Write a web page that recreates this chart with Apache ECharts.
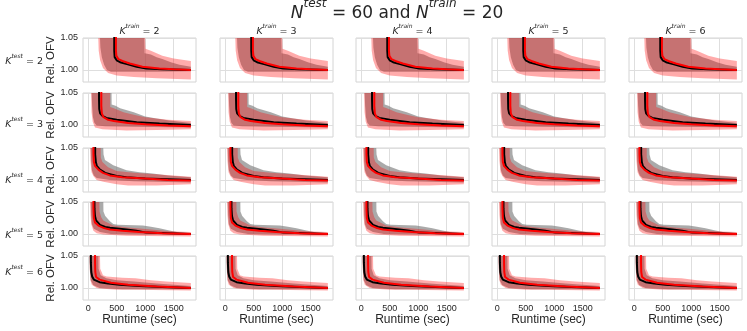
<!DOCTYPE html>
<html lang="en">
<head>
<meta charset="UTF-8">
<title>Rel. OFV grid</title>
<script src="https://cdn.jsdelivr.net/npm/echarts@6/dist/echarts.min.js"></script>
<style>
    html, body { margin: 0; padding: 0; background: #fff; }
    #container { width: 747px; height: 331px; }
</style>
</head>
<body>
<div id="container"></div>
<script>
    var kTrain = [2, 3, 4, 5, 6];
    var kTest = [2, 3, 4, 5, 6];
    var xTicks = [0, 500, 1000, 1500];
    var yTicks = [1.00, 1.05];

    // one set of curves per K_test row, points are [runtime, rel. OFV]
    var blackMean = [
        [[457,1.3],[458,1.03],[465,1.02],[500,1.015],[560,1.012],[680,1.009],[850,1.005],[1020,1.002],[1300,1.0008],[1800,1.0]],
        [[190,1.3],[191,1.04],[195,1.025],[210,1.018],[250,1.014],[320,1.011],[500,1.008],[850,1.004],[1250,1.002],[1800,1.0]],
        [[122,1.3],[123,1.04],[135,1.028],[151,1.022],[208,1.016],[300,1.011],[382,1.009],[500,1.006],[672,1.004],[1000,1.002],[1400,1.001],[1800,1.0]],
        [[110,1.3],[111,1.04],[120,1.028],[139,1.021],[208,1.014],[300,1.011],[382,1.0095],[672,1.007],[845,1.005],[1020,1.002],[1400,1.001],[1800,1.0]],
        [[47,1.3],[48,1.04],[55,1.025],[70,1.018],[100,1.013],[200,1.009],[350,1.007],[550,1.005],[900,1.003],[1300,1.0015],[1800,1.0]]
    ];
    var redMean = [
        [[486,1.3],[487,1.03],[495,1.022],[530,1.017],[600,1.014],[730,1.010],[950,1.005],[1250,1.002],[1500,1.001],[1800,1.0]],
        [[230,1.3],[231,1.03],[240,1.018],[270,1.012],[350,1.008],[450,1.006],[700,1.003],[1000,1.001],[1400,0.999],[1800,0.998]],
        [[92,1.3],[93,1.04],[100,1.028],[120,1.022],[180,1.016],[260,1.011],[380,1.007],[600,1.004],[1000,1.002],[1400,1.0],[1800,0.999]],
        [[92,1.3],[93,1.04],[100,1.025],[120,1.018],[180,1.013],[280,1.009],[382,1.007],[600,1.005],[900,1.003],[1300,1.001],[1800,1.0]],
        [[120,1.3],[121,1.04],[125,1.025],[140,1.017],[200,1.013],[400,1.008],[700,1.005],[1200,1.002],[1800,1.0]]
    ];
    var greyUpper = [
        [[205,1.2],[985,1.2],[990,1.026],[1100,1.024],[1200,1.02],[1300,1.017],[1450,1.012],[1600,1.008],[1800,1.005]],
        [[60,1.2],[410,1.2],[412,1.032],[480,1.03],[560,1.026],[800,1.02],[1000,1.013],[1200,1.01],[1420,1.007],[1800,1.003]],
        [[45,1.2],[265,1.2],[270,1.04],[295,1.031],[440,1.023],[672,1.015],[900,1.012],[1130,1.010],[1400,1.007],[1800,1.004]],
        [[45,1.2],[266,1.2],[268,1.035],[300,1.028],[382,1.02],[440,1.0155],[520,1.0145],[960,1.013],[1100,1.011],[1250,1.009],[1424,1.0055],[1600,1.002],[1800,1.001]],
        [[23,1.2],[180,1.2],[183,1.03],[220,1.02],[320,1.015],[500,1.012],[800,1.01],[1200,1.007],[1500,1.005],[1800,1.003]]
    ];
    var greyLower = [
        [[205,1.2],[208,1.05],[215,1.035],[240,1.02],[280,1.008],[330,1.0],[400,0.997],[700,0.997],[1200,0.997],[1800,0.998]],
        [[60,1.2],[62,1.05],[70,1.03],[85,1.012],[110,1.003],[150,0.999],[300,0.998],[800,0.997],[1800,0.996]],
        [[45,1.2],[47,1.05],[52,1.03],[65,1.015],[100,1.007],[150,1.003],[380,1.0],[800,0.998],[1800,0.996]],
        [[45,1.2],[47,1.05],[52,1.03],[65,1.015],[100,1.008],[208,1.003],[400,1.0],[1000,0.999],[1800,0.999]],
        [[23,1.2],[25,1.05],[30,1.03],[45,1.012],[92,1.004],[200,1.0],[600,0.998],[1800,0.998]]
    ];
    var redUpper = [
        [[175,1.2],[1000,1.2],[1005,1.033],[1100,1.03],[1200,1.026],[1300,1.022],[1500,1.018],[1650,1.016],[1800,1.014]],
        [[50,1.2],[385,1.2],[387,1.028],[450,1.026],[620,1.02],[800,1.016],[1000,1.012],[1400,1.008],[1800,1.006]],
        [[30,1.2],[220,1.2],[222,1.035],[250,1.028],[350,1.02],[500,1.014],[800,1.011],[1250,1.0085],[1800,1.005]],
        [[30,1.2],[197,1.2],[200,1.035],[230,1.026],[266,1.021],[440,1.013],[700,1.01],[960,1.008],[1424,1.004],[1800,1.003]],
        [[20,1.2],[208,1.2],[212,1.03],[260,1.02],[325,1.018],[600,1.016],[830,1.015],[1100,1.012],[1366,1.01],[1800,1.0075]]
    ];
    var redLower = [
        [[175,1.2],[178,1.05],[185,1.03],[210,1.015],[260,1.003],[350,0.995],[500,0.991],[800,0.989],[1200,0.987],[1800,0.985]],
        [[50,1.2],[52,1.05],[60,1.02],[80,1.005],[120,0.996],[250,0.993],[670,0.991],[1200,0.992],[1800,0.993]],
        [[30,1.2],[33,1.05],[40,1.03],[60,1.012],[92,1.006],[150,1.0],[266,0.997],[500,0.993],[700,0.991],[1200,0.991],[1800,0.993]],
        [[30,1.2],[33,1.05],[40,1.03],[55,1.015],[92,1.005],[150,1.001],[266,0.999],[672,0.997],[1800,0.996]],
        [[20,1.2],[23,1.05],[28,1.03],[40,1.012],[64,1.005],[150,1.0],[208,0.999],[500,0.997],[787,0.997],[1800,0.996]]
    ];

    var colLeft = [83, 220, 356, 492, 629];
    var rowTop = [38, 93, 148, 202, 256];
    var rowLabelY = [60, 123, 179, 234, 271];
    var W = 113, H = 44;
    var textColor = '#262626';
    var mathFont = 'DejaVu Sans';
    var plainFont = 'Liberation Sans';

    // math-like text: italic variable, smaller raised superscript, upright rest
    function mathRich(size) {
        var sup = Math.round(size * 0.68);
        return {
            v: { fontFamily: mathFont, fontStyle: 'italic', fontWeight: 'normal', fontSize: size, lineHeight: size * 1.38, verticalAlign: 'bottom', color: textColor },
            s: { fontFamily: mathFont, fontStyle: 'italic', fontWeight: 'normal', fontSize: sup, lineHeight: sup, verticalAlign: 'top', color: textColor },
            n: { fontFamily: mathFont, fontWeight: 'normal', fontSize: size, lineHeight: size * 1.38, verticalAlign: 'bottom', color: textColor }
        };
    }

    function bandSeries(idx, upper, lower, color) {
        return {
            type: 'custom',
            xAxisIndex: idx,
            yAxisIndex: idx,
            clip: true,
            silent: true,
            z: 2,
            data: [0],
            renderItem: function (params, api) {
                var pts = upper.map(function (p) { return api.coord(p); })
                    .concat(lower.slice().reverse().map(function (p) { return api.coord(p); }));
                return {
                    type: 'polygon',
                    shape: { points: echarts.graphic.clipPointsByRect(pts, params.coordSys) },
                    style: { fill: color }
                };
            }
        };
    }

    function lineSeries(idx, data, color) {
        return {
            type: 'line',
            xAxisIndex: idx,
            yAxisIndex: idx,
            data: data,
            showSymbol: false,
            clip: true,
            silent: true,
            z: 3,
            lineStyle: { color: color, width: 2 }
        };
    }

    var grids = [], xAxes = [], yAxes = [], series = [], titles = [];

    titles.push({
        text: '{v|N}{s|test}{n| = 60 and }{v|N}{s|train}{n| = 20}',
        left: 397, top: 10, padding: 0,
        textAlign: 'center', textVerticalAlign: 'middle',
        textStyle: { fontWeight: 'normal', rich: mathRich(17) }
    });

    for (var c = 0; c < kTrain.length; c++) {
        titles.push({
            text: '{v|K}{s|train}{n| = ' + kTrain[c] + '}',
            left: colLeft[c] + W / 2, top: 30, padding: 0,
            textAlign: 'center', textVerticalAlign: 'middle',
            textStyle: { fontWeight: 'normal', rich: mathRich(9.5) }
        });
    }
    for (var r = 0; r < kTest.length; r++) {
        titles.push({
            text: '{v|K}{s|test}{n| = ' + kTest[r] + '}',
            left: 43, top: rowLabelY[r], padding: 0,
            textAlign: 'right', textVerticalAlign: 'middle',
            textStyle: { fontWeight: 'normal', rich: mathRich(9.5) }
        });
    }

    for (r = 0; r < kTest.length; r++) {
        for (c = 0; c < kTrain.length; c++) {
            var i = grids.length;
            var bottomRow = r === kTest.length - 1;
            var firstCol = c === 0;
            grids.push({
                left: colLeft[c], top: rowTop[r], width: W, height: H,
                show: true, borderColor: '#d4d4d4', borderWidth: 1, backgroundColor: '#fff'
            });
            xAxes.push({
                type: 'value', gridIndex: i, min: -90, max: 1890,
                axisLine: { show: false },
                axisTick: { show: false, customValues: xTicks },
                axisLabel: {
                    show: bottomRow, customValues: xTicks, color: textColor, fontSize: 9, fontFamily: plainFont, margin: 4,
                    formatter: function (v) { return String(v); }
                },
                splitLine: { show: true, lineStyle: { color: '#dedede', width: 1 } },
                name: bottomRow ? 'Runtime (sec)' : '',
                nameLocation: 'middle', nameGap: 13,
                nameTextStyle: { color: textColor, fontSize: 12, fontFamily: plainFont }
            });
            yAxes.push({
                type: 'value', gridIndex: i, min: 0.981, max: 1.05,
                axisLine: { show: false },
                axisTick: { show: false, customValues: yTicks },
                axisLabel: {
                    show: firstCol, customValues: yTicks, color: textColor, fontSize: 9, fontFamily: plainFont, margin: 5,
                    formatter: function (v) { return v.toFixed(2); }
                },
                splitLine: { show: true, lineStyle: { color: '#dedede', width: 1 } },
                name: firstCol ? 'Rel. OFV' : '',
                nameLocation: 'middle', nameGap: 24,
                nameTextStyle: { color: textColor, fontSize: 11.5, fontFamily: plainFont }
            });
            series.push(bandSeries(i, greyUpper[r], greyLower[r], 'rgba(128,128,128,0.67)'));
            series.push(bandSeries(i, redUpper[r], redLower[r], 'rgba(255,0,0,0.33)'));
            series.push(lineSeries(i, blackMean[r], '#000'));
            series.push(lineSeries(i, redMean[r], '#ff0000'));
        }
    }

    var myChart = echarts.init(document.getElementById('container'));
    myChart.setOption({
        animation: false,
        backgroundColor: '#fff',
        title: titles,
        grid: grids,
        xAxis: xAxes,
        yAxis: yAxes,
        series: series
    });
</script>
</body>
</html>
